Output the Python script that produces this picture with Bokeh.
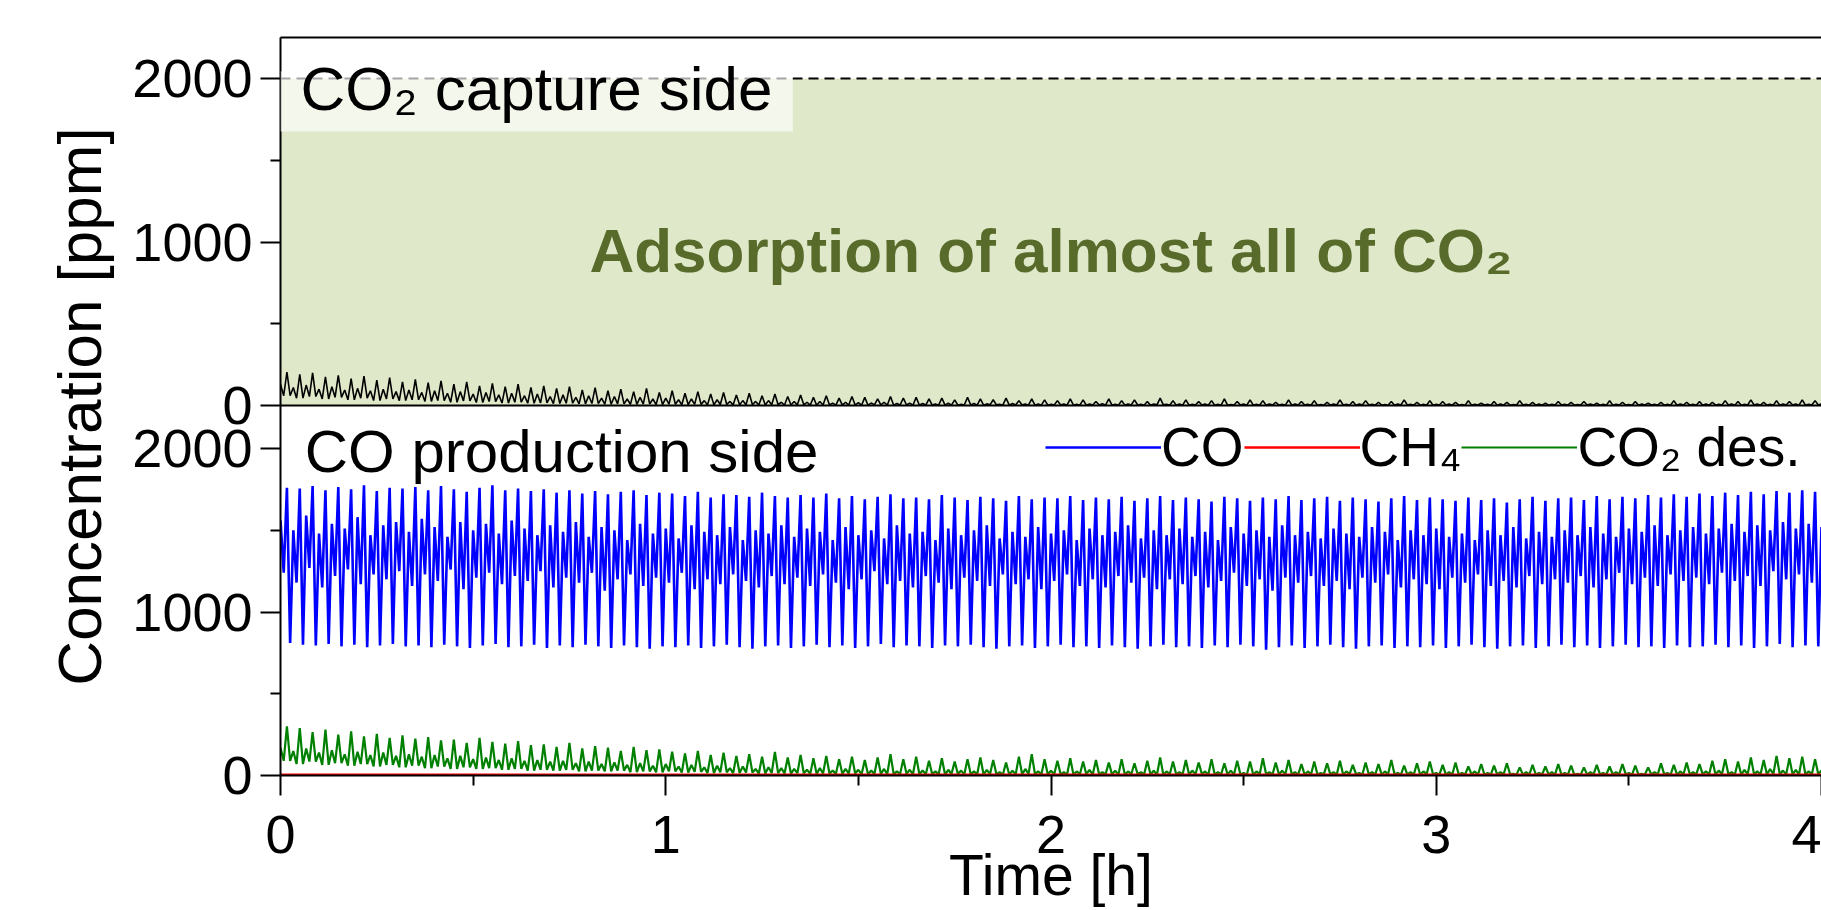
from bokeh.plotting import figure
from bokeh.models import (Range1d, LinearAxis, FixedTicker, Span, Label,
                          BoxAnnotation, Legend, LegendItem)
from bokeh.embed import file_html
from bokeh.resources import INLINE

FONT = "Liberation Sans"

# ---------------- data ----------------
cycle_h = 2.0 / 60.0          # one adsorption/desorption cycle = 2 min

# CO production side: CO outlet, per cycle (ppm)
co_hi = [1760, 1755, 1770, 1745, 1765, 1750, 1775, 1740, 1760, 1755,
         1765, 1745, 1770, 1750, 1735, 1760, 1775, 1745, 1755, 1740,
         1750, 1730, 1745, 1725, 1740, 1720, 1735, 1745, 1715, 1730,
         1725, 1710, 1735, 1700, 1720, 1715, 1705, 1730, 1710, 1700,
         1715, 1700, 1725, 1695, 1710, 1690, 1705, 1720, 1695, 1700,
         1690, 1715, 1700, 1685, 1705, 1695, 1680, 1710, 1690, 1700,
         1695, 1710, 1685, 1700, 1690, 1705, 1680, 1695, 1710, 1685,
         1700, 1690, 1675, 1705, 1695, 1680, 1700, 1690, 1710, 1685,
         1695, 1705, 1680, 1700, 1690, 1675, 1695, 1710, 1685, 1700,
         1690, 1680, 1700, 1685, 1695, 1670, 1690, 1705, 1680, 1695,
         1700, 1685, 1710, 1690, 1705, 1695, 1715, 1700, 1720, 1705,
         1725, 1710, 1730, 1715, 1735, 1720, 1740, 1730, 1745, 1735, 1740]
co_lo = [810, 800, 795, 805, 790, 800, 785, 795, 805, 790,
         795, 785, 800, 790, 780, 795, 805, 785, 790, 800,
         780, 795, 785, 800, 790, 780, 795, 785, 775, 790,
         785, 795, 780, 790, 800, 785, 775, 790, 795, 780,
         790, 800, 785, 795, 780, 790, 805, 785, 795, 790,
         780, 795, 790, 800, 785, 775, 790, 795, 780, 790,
         800, 785, 790, 780, 795, 785, 775, 790, 800, 785,
         790, 780, 795, 785, 800, 790, 770, 785, 795, 780,
         790, 800, 785, 775, 790, 795, 780, 790, 785, 795,
         780, 790, 800, 785, 775, 790, 795, 780, 790, 800,
         785, 795, 780, 790, 800, 785, 790, 780, 795, 785,
         790, 800, 785, 795, 780, 790, 805, 785, 795, 790, 800]
co_mid = [1560, 1500, 1590, 1480, 1540, 1510, 1580, 1470, 1530, 1550,
          1490, 1570, 1520, 1460, 1550, 1500, 1540, 1480, 1560, 1510,
          1470, 1530, 1490, 1550, 1460, 1520, 1500, 1440, 1540, 1480,
          1510, 1450, 1530, 1490, 1470, 1520, 1440, 1500, 1480, 1530,
          1460, 1510, 1490, 1440, 1520, 1470, 1500, 1450, 1530, 1480,
          1490, 1440, 1510, 1470, 1500, 1530, 1450, 1490, 1460, 1520,
          1480, 1500, 1440, 1510, 1470, 1490, 1530, 1450, 1500, 1470,
          1510, 1460, 1490, 1440, 1520, 1480, 1500, 1460, 1530, 1470,
          1490, 1450, 1510, 1480, 1460, 1520, 1490, 1440, 1500, 1470,
          1510, 1460, 1480, 1440, 1500, 1470, 1520, 1450, 1490, 1460,
          1500, 1470, 1520, 1480, 1460, 1510, 1490, 1530, 1470, 1500,
          1520, 1480, 1510, 1540, 1490, 1530, 1500, 1550, 1510, 1540, 1520]
co_dip = [1240, 1180, 1270, 1150, 1220, 1260, 1170, 1230, 1200, 1250,
          1160, 1230, 1190, 1260, 1140, 1210, 1240, 1170, 1220, 1190,
          1250, 1150, 1210, 1180, 1240, 1130, 1200, 1230, 1160, 1210,
          1180, 1240, 1140, 1200, 1170, 1230, 1190, 1150, 1220, 1170,
          1210, 1160, 1230, 1180, 1140, 1200, 1250, 1170, 1190, 1150,
          1220, 1180, 1140, 1210, 1190, 1160, 1230, 1170, 1200, 1140,
          1190, 1230, 1160, 1200, 1150, 1220, 1180, 1210, 1140, 1200,
          1170, 1220, 1150, 1190, 1240, 1160, 1200, 1130, 1210, 1180,
          1220, 1160, 1190, 1140, 1210, 1180, 1230, 1150, 1200, 1170,
          1140, 1210, 1180, 1230, 1160, 1190, 1150, 1220, 1170, 1200,
          1180, 1220, 1150, 1200, 1240, 1170, 1210, 1160, 1230, 1190,
          1210, 1170, 1240, 1190, 1220, 1160, 1250, 1200, 1230, 1180, 1210]

# CO production side: desorbed CO2, per cycle (ppm)
g_peak = [300, 290, 265, 280, 250, 270, 240, 255, 230, 245,
          225, 235, 215, 220, 200, 230, 205, 195, 210, 185,
          190, 175, 200, 165, 180, 170, 150, 175, 155, 160,
          145, 135, 150, 125, 140, 120, 130, 115, 145, 110,
          125, 105, 120, 100, 115, 95, 110, 130, 100, 115,
          90, 105, 85, 100, 110, 95, 80, 115, 130, 100,
          90, 105, 85, 95, 80, 100, 75, 90, 110, 85,
          95, 80, 100, 75, 90, 85, 105, 80, 95, 70,
          85, 75, 90, 65, 80, 70, 95, 60, 75, 85,
          65, 80, 55, 70, 60, 75, 50, 65, 55, 70,
          60, 50, 65, 55, 70, 60, 50, 75, 65, 80,
          70, 90, 100, 85, 110, 95, 120, 105, 115, 100, 110]
g_bump = [170, 150, 165, 140, 155, 130, 145, 125, 140, 120,
          130, 115, 125, 105, 120, 100, 110, 95, 105, 90,
          95, 85, 90, 75, 85, 70, 80, 65, 75, 60,
          70, 55, 65, 50, 60, 45, 55, 40, 50, 45,
          40, 35, 45, 30, 40, 35, 30, 40, 25, 35,
          30, 25, 35, 30, 25, 35, 20, 30, 40, 25,
          30, 20, 25, 35, 20, 30, 25, 20, 30, 25,
          20, 30, 25, 20, 30, 15, 25, 20, 30, 20,
          25, 15, 20, 25, 15, 20, 25, 15, 20, 25,
          15, 20, 15, 25, 15, 20, 10, 20, 15, 20,
          15, 10, 20, 15, 20, 15, 10, 20, 15, 25,
          20, 25, 30, 20, 35, 25, 40, 30, 35, 25, 30]
g_base = [90, 70, 85, 65, 75, 60, 70, 55, 65, 50,
          60, 45, 55, 40, 50, 40, 45, 35, 40, 30,
          35, 30, 35, 25, 30, 25, 30, 20, 25, 20,
          25, 18, 22, 15, 20, 15, 18, 12, 15, 12,
          14, 10, 12, 10, 12, 8, 10, 8, 10, 8,
          8, 6, 9, 7, 6, 8, 5, 7, 9, 6,
          7, 5, 8, 6, 7, 5, 8, 6, 5, 7,
          6, 8, 5, 7, 6, 5, 8, 6, 7, 5,
          6, 7, 5, 8, 6, 5, 7, 6, 5, 8,
          5, 6, 7, 5, 6, 8, 5, 6, 7, 5,
          6, 5, 7, 6, 8, 5, 6, 7, 5, 6,
          7, 6, 8, 5, 7, 6, 8, 7, 6, 8, 7]

# CO production side: CH4 (flat, near zero)
ch4_t = [0.0, 4.1]
ch4_ppm = [5, 5]

# CO2 capture side: outlet CO2, per cycle (ppm)
b_peak = [205, 190, 200, 175, 185, 165, 180, 155, 170, 145,
          160, 140, 150, 130, 145, 120, 135, 115, 130, 110,
          120, 105, 115, 95, 110, 90, 100, 85, 105, 80,
          90, 75, 85, 70, 80, 65, 75, 60, 70, 55,
          65, 50, 60, 45, 55, 50, 40, 55, 45, 50,
          40, 45, 35, 50, 40, 35, 45, 30, 40, 35,
          30, 40, 35, 25, 40, 30, 35, 25, 45, 30,
          35, 25, 30, 40, 25, 35, 30, 20, 35, 25,
          30, 20, 35, 25, 30, 20, 25, 35, 20, 30,
          25, 20, 30, 15, 25, 20, 30, 20, 15, 25,
          20, 25, 15, 30, 20, 25, 15, 20, 30, 20,
          25, 20, 30, 25, 35, 20, 30, 25, 35, 30, 25]
b_mid = [130, 110, 125, 100, 115, 95, 105, 90, 100, 85,
         95, 80, 90, 75, 85, 70, 80, 65, 75, 60,
         70, 55, 65, 50, 60, 45, 55, 40, 50, 40,
         45, 35, 40, 30, 35, 25, 30, 25, 30, 20,
         25, 20, 25, 15, 20, 18, 15, 20, 12, 15,
         12, 10, 14, 8, 12, 10, 8, 12, 10, 9,
         8, 10, 7, 9, 11, 8, 10, 7, 9, 8,
         10, 7, 9, 8, 6, 9, 8, 10, 7, 9,
         8, 6, 9, 7, 10, 8, 6, 9, 7, 8,
         7, 9, 6, 8, 7, 10, 6, 8, 9, 7,
         8, 6, 9, 7, 8, 6, 9, 7, 8, 10,
         7, 9, 8, 10, 7, 9, 8, 10, 9, 8, 9]
b_low = [60, 45, 55, 40, 50, 35, 45, 30, 40, 30,
         35, 25, 30, 20, 28, 18, 24, 15, 20, 14,
         16, 12, 14, 10, 12, 8, 10, 7, 9, 6,
         8, 5, 7, 4, 6, 4, 5, 3, 5, 3,
         4, 2, 3, 2, 3, 2, 4, 2, 3, 2,
         3, 2, 2, 3, 2, 4, 2, 3, 2, 2,
         3, 2, 2, 3, 2, 2, 3, 2, 4, 2,
         2, 3, 2, 2, 3, 2, 2, 3, 2, 3,
         2, 2, 3, 2, 3, 2, 2, 3, 2, 2,
         3, 2, 2, 3, 2, 2, 3, 2, 2, 3,
         2, 3, 2, 2, 3, 2, 3, 2, 2, 3,
         2, 2, 3, 2, 3, 2, 2, 3, 2, 3, 2]

# CO2 capture side: inlet level (2000 ppm) that is almost fully adsorbed
inlet_t = [0.0, 4.1]
inlet_ppm = [2000, 2000]

x_ticks = [0, 1, 2, 3, 4]
x_minor = [0.5, 1.5, 2.5, 3.5]
y_ticks = [0, 1000, 2000]
y_minor = [500, 1500]


def cycles(*cols):
    """Lay the per-cycle readings out in time, four readings per cycle."""
    n = min(len(c) for c in cols)
    t, y = [], []
    for i in range(n):
        for k, c in enumerate(cols):
            t.append((i + k / len(cols)) * cycle_h)
            y.append(c[i])
    return t, y


co_t, co_y = cycles(co_mid, co_dip, co_hi, co_lo)
g_t, g_y = cycles(g_bump, g_base, g_peak, g_base)
b_t, b_y = cycles(b_mid, b_low, b_peak, b_low)

# ---------------- figure ----------------
BOT_SPAN = 2263       # ppm shown in the lower panel
TOP_SPAN = 2251       # ppm shown in the upper panel
Z = BOT_SPAN          # where the upper panel's zero sits on the shared axis

p = figure(width=1821, height=910,
           x_range=Range1d(0, 4.0), y_range=Range1d(0, BOT_SPAN + TOP_SPAN),
           x_axis_type=None, y_axis_type=None,
           output_backend="svg", toolbar_location=None,
           min_border_left=280, min_border_right=0,
           min_border_top=37, min_border_bottom=135)
p.extra_y_ranges = {"top": Range1d(-BOT_SPAN, TOP_SPAN)}
p.outline_line_color = None
p.background_fill_color = "white"
p.border_fill_color = "white"

# upper panel
p.varea(x=inlet_t, y1=0, y2=inlet_ppm, y_range_name="top",
        fill_color="#dfe8c9", fill_alpha=1.0)
p.line(inlet_t, inlet_ppm, y_range_name="top", line_color="black",
       line_width=2, line_dash="10 6")
p.line(b_t, b_y, y_range_name="top", line_color="black", line_width=1.6)

box = BoxAnnotation(left=0, right=1.33, bottom=1676, top=2045,
                    y_range_name="top", fill_color="white", fill_alpha=0.65,
                    line_color=None)
p.add_layout(box)

# lower panel
r_co = p.line(co_t, co_y, line_color="#0000ff", line_width=2.6)
r_g = p.line(g_t, g_y, line_color="#008000", line_width=2.2)
r_ch4 = p.line(ch4_t, ch4_ppm, line_color="#ff0000", line_width=2.5)

# divider between the panels
p.add_layout(Span(location=Z, dimension="width", line_color="black",
                  line_width=2))

# axes
lab_size = "54px"
yax = LinearAxis(
    ticker=FixedTicker(ticks=y_ticks + [Z + v for v in y_ticks],
                       minor_ticks=y_minor + [Z + v for v in y_minor]),
    major_label_overrides={Z + v: str(v) for v in y_ticks},
    axis_label="Concentration [ppm]")
yax.axis_label_text_font = FONT
yax.axis_label_text_font_size = "62px"
yax.axis_label_text_font_style = "normal"
yax.axis_label_text_color = "black"
yax.axis_label_standoff = 15
yax.major_label_text_font = FONT
yax.major_label_text_font_size = lab_size
yax.major_label_standoff = 8
p.add_layout(yax, "left")

xax = LinearAxis(ticker=FixedTicker(ticks=x_ticks, minor_ticks=x_minor),
                 axis_label="Time [h]")
xax.major_label_text_font = FONT
xax.major_label_text_font_size = lab_size
xax.major_label_standoff = 20
xax.axis_label_text_font = FONT
xax.axis_label_text_font_size = "57px"
xax.axis_label_text_font_style = "normal"
xax.axis_label_text_color = "black"
xax.axis_label_standoff = -13
p.add_layout(xax, "below")

topax = LinearAxis(ticker=FixedTicker(ticks=[], minor_ticks=[]))
p.add_layout(topax, "above")

for ax in (yax, xax, topax):
    ax.axis_line_width = 2
    ax.axis_line_color = "black"
    ax.major_tick_line_width = 2
    ax.minor_tick_line_width = 2
    ax.major_tick_in = 0
    ax.minor_tick_in = 0
    ax.major_tick_out = 20
    ax.minor_tick_out = 10
    ax.major_label_text_color = "black"

# texts
p.add_layout(Label(x=0.052, y=1936, y_range_name="top",
                   text="CO\u2082 capture side", text_font=FONT,
                   text_font_size="62px", text_color="black",
                   text_baseline="alphabetic"))
p.add_layout(Label(x=2.0, y=948, y_range_name="top",
                   text="Adsorption of almost all of CO\u2082",
                   text_align="center", text_font=FONT,
                   text_font_size="62px", text_font_style="bold",
                   text_color="#586b2b", text_baseline="alphabetic"))
p.add_layout(Label(x=0.063, y=1982, text="CO production side",
                   text_font=FONT, text_font_size="60px",
                   text_color="black", text_baseline="alphabetic"))

legend = Legend(items=[LegendItem(label="CO", renderers=[r_co]),
                       LegendItem(label="CH\u2084", renderers=[r_ch4]),
                       LegendItem(label="CO\u2082 des.", renderers=[r_g])],
                location=(765, 296), orientation="horizontal",
                glyph_width=116, glyph_height=30, label_standoff=0,
                spacing=0, padding=0, margin=0,
                label_text_font=FONT, label_text_font_size="55px",
                label_text_color="black", label_text_baseline="middle",
                background_fill_alpha=0, border_line_color=None)
p.add_layout(legend, "center")

open("out.html", "w").write(file_html(p, INLINE))
